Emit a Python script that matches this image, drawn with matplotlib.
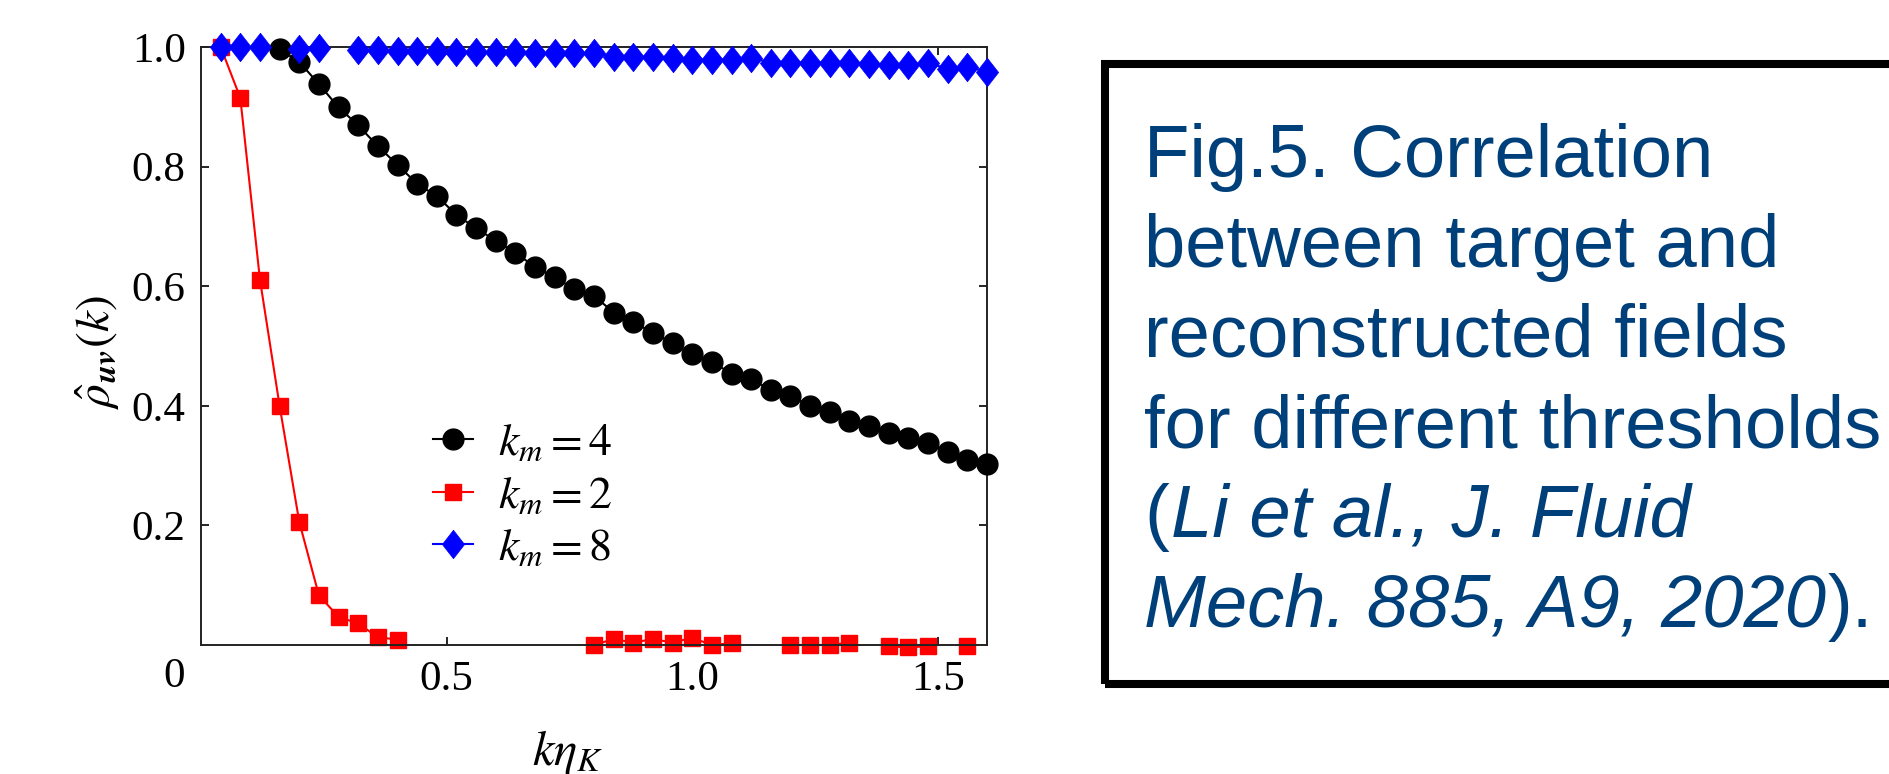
import matplotlib
matplotlib.use("Agg")
import matplotlib.pyplot as plt
import numpy as np
from matplotlib.patches import Rectangle

nan = np.nan

# k * eta_K grid
k_eta = [0.04, 0.08, 0.12, 0.16, 0.20, 0.24, 0.28, 0.32, 0.36, 0.40,
         0.44, 0.48, 0.52, 0.56, 0.60, 0.64, 0.68, 0.72, 0.76, 0.80,
         0.84, 0.88, 0.92, 0.96, 1.00, 1.04, 1.08, 1.12, 1.16, 1.20,
         1.24, 1.28, 1.32, 1.36, 1.40, 1.44, 1.48, 1.52, 1.56, 1.60]

rho_km4 = [nan, nan, nan, 0.996, 0.975, 0.938, 0.899, 0.869, 0.834, 0.803,
           0.771, 0.751, 0.719, 0.697, 0.676, 0.656, 0.632, 0.615, 0.595, 0.584,
           0.556, 0.540, 0.522, 0.505, 0.486, 0.473, 0.454, 0.444, 0.427, 0.416,
           0.400, 0.389, 0.375, 0.366, 0.354, 0.346, 0.338, 0.323, 0.309, 0.303]

rho_km2 = [1.0, 0.915, 0.611, 0.400, 0.206, 0.083, 0.047, 0.036, 0.013, 0.009,
           nan, nan, nan, nan, nan, nan, nan, nan, nan, 0.0,
           0.010, 0.004, 0.010, 0.004, 0.012, 0.0, 0.003, nan, nan, 0.0,
           0.0, 0.0, 0.004, nan, -0.002, -0.004, -0.002, nan, -0.001, nan]

rho_km8 = [1.0, 1.0, 1.0, nan, 0.997, 0.998, nan, 0.995, 0.995, 0.994,
           0.993, 0.993, 0.992, 0.992, 0.991, 0.991, 0.990, 0.990, 0.990, 0.990,
           0.983, 0.983, 0.984, 0.981, 0.979, 0.979, 0.979, 0.982, 0.974, 0.974,
           0.974, 0.974, 0.974, 0.972, 0.970, 0.970, 0.974, 0.963, 0.967, 0.959]

series_labels = [r'$k_m = 4$', r'$k_m = 2$', r'$k_m = 8$']

xticks = [0.5, 1.0, 1.5]
xtick_labels = ['0.5', '1.0', '1.5']
yticks = [0.2, 0.4, 0.6, 0.8, 1.0]
ytick_labels = ['0.2', '0.4', '0.6', '0.8', '1.0']

caption_plain = ["Fig.5. Correlation",
                 "between target and",
                 "reconstructed fields",
                 "for different thresholds"]
caption_ref1 = ["(", "Li et al., J. Fluid", ""]
caption_ref2 = ["", "Mech. 885, A9, 2020", ")."]

plt.rcParams['font.family'] = 'serif'
plt.rcParams['font.serif'] = ['Liberation Serif', 'DejaVu Serif']
plt.rcParams['mathtext.fontset'] = 'stix'

W, H = 1889, 774
fig = plt.figure(figsize=(W / 100, H / 100), dpi=100)
ax = fig.add_axes([201 / W, 1 - 645 / H, 786 / W, 598 / H])

# slightly tall diamond like the original
tall_diamond = [(0, 1), (0.78, 0), (0, -1), (-0.78, 0), (0, 1)]

ax.plot(k_eta, rho_km4, color='k', marker='o', ms=15, lw=1.5, mec='k',
        clip_on=False, label=series_labels[0], zorder=3)
ax.plot(k_eta, rho_km2, color='#ff0000', marker='s', ms=11, lw=1.5, mec='#ff0000',
        clip_on=False, label=series_labels[1], zorder=2)
ax.plot(k_eta, rho_km8, color='#0000ff', marker=tall_diamond, ms=20.5, lw=1.5,
        mec='#0000ff', mew=0.5, clip_on=False, label=series_labels[2], zorder=4)

ax.set_xlim(0, 1.6)
ax.set_ylim(0, 1.0)
ax.set_xticks(xticks)
ax.set_xticklabels(xtick_labels)
ax.set_yticks(yticks)
ax.set_yticklabels(ytick_labels)
ax.tick_params(direction='in', length=6, width=1.2, top=True, right=True,
               labelsize=31, pad=11)
for sp in ax.spines.values():
    sp.set_linewidth(1.4)
    sp.set_color('#222222')

# shared origin label
ax.annotate('0', xy=(0, 0), xycoords='data', xytext=(-19, -23),
            textcoords='offset points', ha='center', va='center', fontsize=31)

ax.set_xlabel(r'$k\eta_K$', fontsize=35)
ax.xaxis.label.set_va('center')
ax.xaxis.set_label_coords(0.466, -0.179)
ax.set_ylabel(r'$\hat{\rho}_{\mathbfit{uv}}(k)$', fontsize=34)
ax.yaxis.label.set_va('center')
ax.yaxis.set_label_coords(-0.132, 0.49)

ax.legend(loc='upper left', bbox_to_anchor=(0.295, 0.372), frameon=False,
          fontsize=33, handlelength=0.87, handletextpad=0.55, labelspacing=0.22,
          borderpad=0, borderaxespad=0)

# caption box on the right
fig.add_artist(Rectangle((1105 / W, 1 - 684 / H), 2.0, 620 / H,
                         transform=fig.transFigure, fill=False,
                         lw=5.8, ec='black'))

txt_color = '#00407a'
cap_font = dict(family='Liberation Sans', fontsize=53.5, color=txt_color)
baselines = [177, 267, 357, 447, 537, 627]
x0 = 1144

for i, line in enumerate(caption_plain):
    fig.text(x0 / W, 1 - baselines[i] / H, line, va='baseline', ha='left', **cap_font)

renderer = fig.canvas.get_renderer()
for j, parts in enumerate([caption_ref1, caption_ref2]):
    x = x0
    y = 1 - baselines[4 + j] / H
    for p, piece in enumerate(parts):
        if not piece:
            continue
        style = 'italic' if p == 1 else 'normal'
        t = fig.text(x / W, y, piece, va='baseline', ha='left', style=style, **cap_font)
        x = t.get_window_extent(renderer).x1 + 2

fig.savefig('out.png', dpi=100)
